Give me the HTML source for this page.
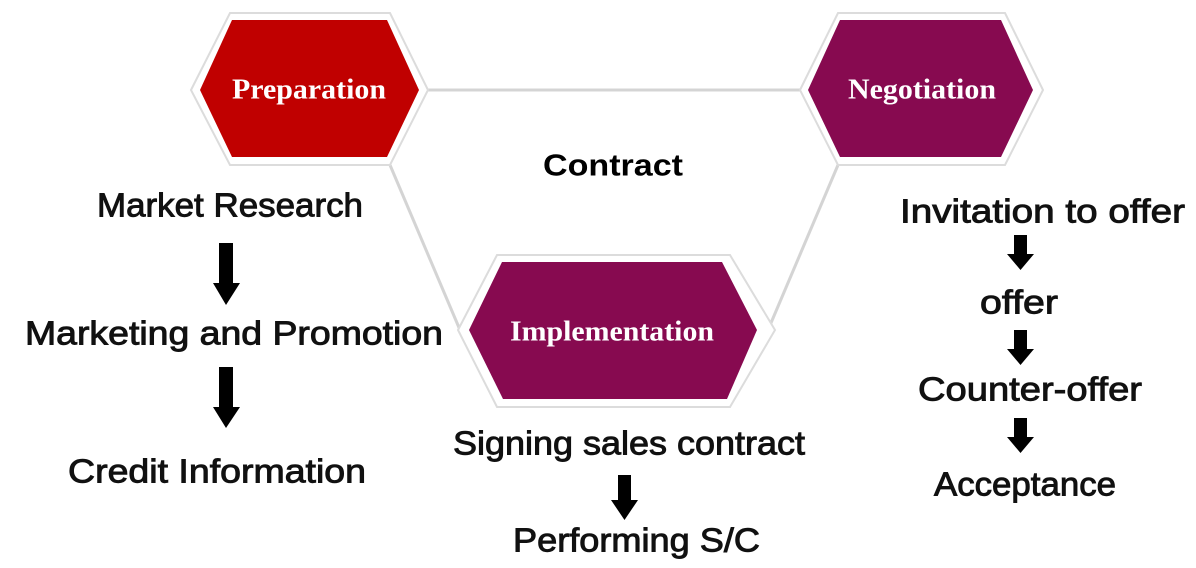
<!DOCTYPE html>
<html><head><meta charset="utf-8"><style>
html,body{margin:0;padding:0;background:#fff;}
svg{display:block;}
.t{font-family:"Liberation Sans",sans-serif;font-size:33px;fill:#111;stroke:#111;stroke-width:0.9;}
.h{font-family:"Liberation Serif",serif;font-weight:bold;font-size:28px;fill:#fff;}
</style></head><body>
<svg width="1196" height="568" viewBox="0 0 1196 568" xmlns="http://www.w3.org/2000/svg">
<g stroke="#d4d4d4" stroke-width="3" fill="none">
<line x1="428" y1="90" x2="800" y2="90"/>
<line x1="390" y1="165" x2="460" y2="330"/>
<line x1="768" y1="330" x2="838" y2="165"/>
</g>
<polygon points="191,90 230,13 390,13 428,90 390,165 230,165" fill="#fff" stroke="#dcdcdc" stroke-width="2"/>
<polygon points="200,90 232,20 387,20 419,90 387,157 232,157" fill="#c00000"/>
<text class="h" x="309" y="90" text-anchor="middle" dominant-baseline="central" textLength="154" lengthAdjust="spacingAndGlyphs">Preparation</text>
<polygon points="800,90 838,13 1005,13 1043,90 1005,165 838,165" fill="#fff" stroke="#dcdcdc" stroke-width="2"/>
<polygon points="808,90 840,20 1001,20 1033,90 1001,157 840,157" fill="#870a50"/>
<text class="h" x="922" y="90" text-anchor="middle" dominant-baseline="central" textLength="148" lengthAdjust="spacingAndGlyphs">Negotiation</text>
<polygon points="458,330 497,255 730,255 775,330 730,407 497,407" fill="#fff" stroke="#dcdcdc" stroke-width="2"/>
<polygon points="469,330 502,262 722,262 757,330 727,399 503,399" fill="#870a50"/>
<text class="h" x="612" y="332" text-anchor="middle" dominant-baseline="central" textLength="204" lengthAdjust="spacingAndGlyphs">Implementation</text>
<text x="613" y="165" text-anchor="middle" dominant-baseline="central" font-family="Liberation Sans,sans-serif" font-weight="bold" font-size="31" fill="#000" textLength="140" lengthAdjust="spacingAndGlyphs">Contract</text>
<g class="t" text-anchor="start" dominant-baseline="central">
<text x="97" y="205" textLength="266" lengthAdjust="spacingAndGlyphs">Market Research</text>
<text x="25" y="333" textLength="418" lengthAdjust="spacingAndGlyphs">Marketing and Promotion</text>
<text x="68" y="471" textLength="298" lengthAdjust="spacingAndGlyphs">Credit Information</text>
<text x="453" y="443" textLength="352" lengthAdjust="spacingAndGlyphs">Signing sales contract</text>
<text x="513" y="540" textLength="247" lengthAdjust="spacingAndGlyphs">Performing S/C</text>
<text x="900" y="211" textLength="285" lengthAdjust="spacingAndGlyphs">Invitation to offer</text>
<text x="980" y="302" textLength="78" lengthAdjust="spacingAndGlyphs">offer</text>
<text x="918" y="389" textLength="224" lengthAdjust="spacingAndGlyphs">Counter-offer</text>
<text x="934" y="484" textLength="182" lengthAdjust="spacingAndGlyphs">Acceptance</text>
</g>
<g fill="#000">
<polygon points="219,243 233,243 233,283 240,283 226,305 213,283 219,283"/>
<polygon points="219,367 233,367 233,407 240,407 226,428 213,407 219,407"/>
<polygon points="618,475 631,475 631,500 638,500 624.5,520 611,500 618,500"/>
<polygon points="1014,235 1027,235 1027,254 1034,254 1020.5,270 1007,254 1014,254"/>
<polygon points="1014,330 1027,330 1027,349 1034,349 1020.5,365 1007,349 1014,349"/>
<polygon points="1014,418 1027,418 1027,437 1034,437 1020.5,453 1007,437 1014,437"/>
</g>
</svg>
</body></html>
